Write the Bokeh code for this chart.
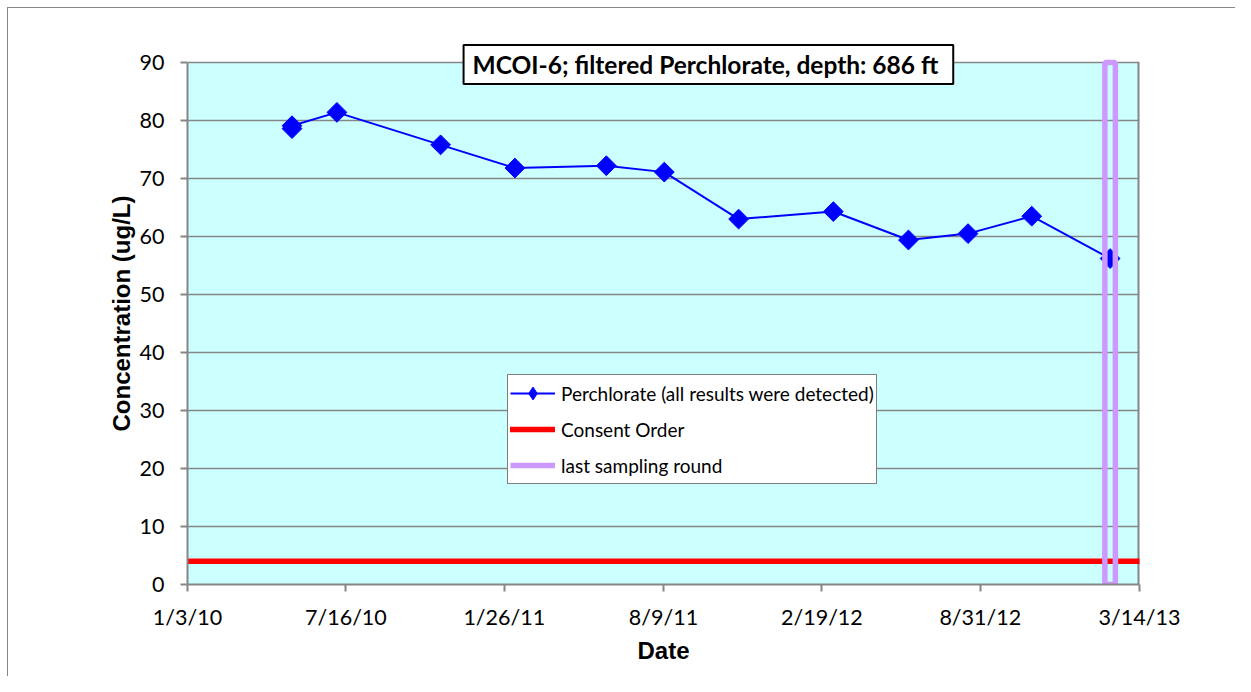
import numpy as np
import pandas as pd
from bokeh.plotting import figure
from bokeh.models import (Range1d, FixedTicker, CustomJSTickFormatter, Label,
                          Legend, LegendItem)
from bokeh.embed import file_html
from bokeh.resources import INLINE

# ---------------- data ----------------
sample_dates = ["2010-05-11", "2010-05-11", "2010-07-05", "2010-11-09",
                "2011-02-08", "2011-05-31", "2011-08-10", "2011-11-09",
                "2012-03-04", "2012-06-04", "2012-08-16", "2012-11-02",
                "2013-02-06"]
perchlorate = [78.6, 79.1, 81.4, 75.8, 71.8, 72.2, 71.1, 63.0, 64.3,
               59.4, 60.5, 63.5, 56.2]
consent_order = 4.0
last_sampling_date = "2013-02-06"

x_start, x_end = "2010-01-03", "2013-03-14"
x_tick_dates = ["2010-01-03", "2010-07-16", "2011-01-26", "2011-08-09",
                "2012-02-19", "2012-08-31", "2013-03-14"]
y_ticks = [0, 10, 20, 30, 40, 50, 60, 70, 80, 90]
y_max = 90

title_text = "MCOI-6;  filtered Perchlorate, depth: 686 ft"
title_date = "2011-10-03"
title_y = 89.67
series_label = "Perchlorate (all results were detected)"
consent_label = "Consent Order"
last_label = "last sampling round"

# ---------------- layout ----------------
W, H = 1235, 676
FL, FT, FW = 187, 42, 952          # frame left/top/width (px)
FH = 584 - FT                      # frame height (px)
PX_PER_UNIT = 522 / y_max
y_top = FH / PX_PER_UNIT           # range top, so that 90 sits at y=62px

dates = pd.to_datetime(sample_dates)
xs, xe = pd.Timestamp(x_start), pd.Timestamp(x_end)
GRAY = "#868686"

p = figure(width=W, height=H, x_axis_type="datetime",
           x_range=Range1d(xs, xe), y_range=Range1d(0, y_top),
           output_backend="svg", toolbar_location=None,
           min_border_left=FL, min_border_right=W - FL - FW,
           min_border_top=FT, min_border_bottom=H - FT - FH)

# outer chart-area border (top/left lines at 7px) painted behind a transparent canvas border
p.border_fill_alpha = 0
p.styles = {
    "background": ("linear-gradient(#878787,#878787) 7px 7px / 2000px 1px no-repeat, "
                   "linear-gradient(#878787,#878787) 7px 7px / 1px 2000px no-repeat, white")
}

p.background_fill_color = "white"
p.outline_line_color = None
p.xgrid.grid_line_color = None
p.ygrid.grid_line_color = GRAY
p.ygrid.grid_line_width = 1.5
p.ygrid.ticker = FixedTicker(ticks=y_ticks)

for ax in (p.xaxis[0], p.yaxis[0]):
    ax.axis_line_color = GRAY
    ax.axis_line_width = 2
    ax.major_tick_line_color = GRAY
    ax.major_tick_line_width = 2
    ax.major_tick_in = 0
    ax.major_tick_out = 7
    ax.minor_tick_line_color = None
    ax.major_label_text_font = "Lato"
    ax.major_label_text_font_size = "21.5px"
    ax.major_label_text_color = "black"
    ax.axis_label_text_font = "Liberation Sans"
    ax.axis_label_text_font_style = "bold"
    ax.axis_label_text_font_size = "24px"
    ax.axis_label_text_color = "black"

p.xaxis[0].ticker = FixedTicker(ticks=[pd.Timestamp(d).value / 1e6 for d in x_tick_dates])
p.xaxis[0].formatter = CustomJSTickFormatter(code="""
const d = new Date(tick);
return (d.getUTCMonth() + 1) + '/' + d.getUTCDate() + '/' + String(d.getUTCFullYear()).slice(2);
""")
p.xaxis[0].major_label_standoff = 12
p.xaxis[0].axis_label = "Date"
p.xaxis[0].axis_label_standoff = 4

p.yaxis[0].ticker = FixedTicker(ticks=y_ticks)
p.yaxis[0].bounds = (0, y_max)
p.yaxis[0].major_label_standoff = 16
p.yaxis[0].axis_label = "Concentration (ug/L)"
p.yaxis[0].axis_label_standoff = 2

# ---------------- glyphs ----------------
# plot-area fill (0..90) and its right edge
p.quad(left=[xs], right=[xe], bottom=[0], top=[y_max], fill_color="#CCFFFF",
       line_color=None, level="image")
p.segment(x0=[xe], y0=[0], x1=[xe], y1=[y_max], line_color=GRAY, line_width=4)

r_red = p.line(x=[xs, xe], y=[consent_order, consent_order], line_color="#FF0000",
               line_width=5.5, line_cap="round")
r_bl = p.line(x=dates, y=perchlorate, line_color="#0000FF", line_width=2)
p.scatter(x=dates, y=perchlorate, marker="square", angle=np.pi / 4,
          size=14, fill_color="#0000FF", line_color="#0000FF")
p.rect(x=[pd.Timestamp(last_sampling_date)], y=[y_max / 2], width=10.5,
       height=y_max, width_units="screen", fill_color=None,
       line_color="#CC99FF", line_width=5.5)

# legend-only glyphs (placed below the visible range)
r_leg_diamond = p.scatter(x=[xs], y=[-10], marker="diamond", size=18,
                          fill_color="#0000FF", line_color="#0000FF")
r_purple_leg = p.line(x=[xs, xe], y=[-10, -10], line_color="#CC99FF", line_width=5.5)

legend = Legend(items=[LegendItem(label=series_label, renderers=[r_bl, r_leg_diamond]),
                       LegendItem(label=consent_label, renderers=[r_red]),
                       LegendItem(label=last_label, renderers=[r_purple_leg])],
                location=(320, 100), padding=2, spacing=4, margin=0,
                glyph_width=45, glyph_height=32, label_height=32,
                label_standoff=6, label_text_font="Lato",
                label_text_font_size="19px", label_text_color="black",
                border_line_color="black", border_line_width=1.5,
                background_fill_color="white", background_fill_alpha=1)
p.add_layout(legend)

title = Label(x=pd.Timestamp(title_date), y=title_y, text=title_text,
              text_align="center", text_baseline="middle",
              text_font="Lato", text_font_style="bold", text_font_size="24.5px",
              text_color="black", border_line_color="black", border_line_width=2,
              background_fill_color="white", padding=(9, 5))
p.add_layout(title)

open("out.html", "w").write(file_html(p, INLINE))
